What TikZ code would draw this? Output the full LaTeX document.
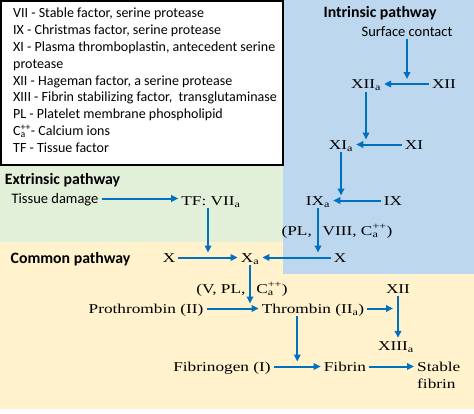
\documentclass[tikz,border=0pt]{standalone}
\usepackage{fontspec}
\setmainfont{Carlito}
\newfontfamily\srf[FakeStretch=1.28]{Liberation Serif}
\usetikzlibrary{arrows.meta,calc}
\definecolor{arrowblue}{RGB}{0,112,192}
\definecolor{intrblue}{RGB}{189,215,238}
\definecolor{extrgreen}{RGB}{226,239,217}
\definecolor{commyellow}{RGB}{255,242,204}
\newcommand{\caion}{C\rlap{\textsubscript{a}}\textsuperscript{++}}
\newcommand{\act}[1]{#1\textsubscript{a}}

\begin{document}
\begin{tikzpicture}[x=1pt, y=-1pt,
        factor/.style={font=\srf\fontsize{13.5}{17}\selectfont, inner sep=3pt, anchor=base},
        rowfac/.style={factor, text height=9pt, text depth=0pt},
        title/.style={font=\bfseries\fontsize{15.8}{18}\selectfont, inner sep=0pt, anchor=base},
        plain/.style={font=\fontsize{14.5}{17}\selectfont, inner sep=3pt, anchor=base, text height=9pt, text depth=0pt},
        arr/.style={arrowblue, line width=2pt, -{Triangle[length=7pt,width=6.5pt]}}]
    \useasboundingbox (0,0) rectangle (474,413);
    % pathway backgrounds
    \fill[commyellow] (0,242) rectangle (474,409);
    \fill[extrgreen] (0,166) rectangle (283,242);
    \fill[intrblue] (283,0) rectangle (474,274);
    \draw[line width=1.5pt, fill=white] (0.8,0.8) rectangle (283,165);
    \node[anchor=north west, align=left, inner sep=0pt, font=\fontsize{14}{16.9}\selectfont] (legend) at (13,7.5)
        {VII - Stable factor, serine protease\\
         IX - Christmas factor, serine protease\\
         XI - Plasma thromboplastin, antecedent serine\\
         protease\\
         XII - Hageman factor, a serine protease\\
         XIII - Fibrin stabilizing factor,\ \ transglutaminase\\
         PL - Platelet membrane phospholipid\\
         \caion- Calcium ions\\
         TF - Tissue factor};

    % intrinsic
    \node[title] (intr) at (380,17) {Intrinsic pathway};
    \node[plain] (surf) at (407,36) {Surface contact};
    \node[rowfac] (xiia) at (366,88.5) {\act{XII}};
    \node[rowfac] (xii) at (444,88.5) {XII};
    \node[rowfac] (xia) at (341,149) {\act{XI}};
    \node[rowfac] (xi) at (414,149) {XI};
    \node[rowfac] (ixa) at (318,205) {\act{IX}};
    \node[rowfac] (ix) at (393,205) {IX};
    \node[factor] (cof1) at (337,235) {(PL,\hspace{0.8em}VIII, \caion)};
    \node[rowfac] (xint) at (340,262) {X};

    % extrinsic
    \node[title] (extr) at (62.5,184) {Extrinsic pathway};
    \node[plain] (tissue) at (55,203) {Tissue damage};
    \node[rowfac] (tf) at (211,205) {TF: \act{VII}};

    % common
    \node[title] (comm) at (70.5,263) {Common pathway};
    \node[rowfac] (xcom) at (169,262) {X};
    \node[rowfac] (xa) at (250,262) {\act{X}};
    \node[factor] (cof2) at (242,293) {(V, PL,\hspace{0.8em}\caion)};
    \node[rowfac] (pro) at (146,313) {Prothrombin (II)};
    \node[rowfac] (thr) at (313,313) {Thrombin (\act{II})};
    \node[rowfac] (xiic) at (398,293) {XII};
    \node[rowfac] (xiiia) at (396,350) {\act{XIII}};
    \node[rowfac] (fgen) at (222,371) {Fibrinogen (I)};
    \node[rowfac] (fib) at (345,371) {Fibrin};
    \node[factor, anchor=north west, align=left] (stab) at (414,359) {Stable\\fibrin};

    % joints on the arrows
    \path (xii.west) -- (xiia.east) coordinate[pos=0.5, yshift=5pt] (j12);
    \path (xi.west) -- (xia.east) coordinate[pos=0.5, yshift=5pt] (j11);
    \path (ix.west) -- (ixa.east) coordinate[pos=0.5, yshift=5pt] (j9);
    \path (xint.west) -- (xa.east) coordinate[pos=0.5, yshift=5pt] (j10);
    \path (xcom.east) -- (xa.west) coordinate[pos=0.5, yshift=5pt] (jx);
    \path (pro.east) -- (thr.west) coordinate[pos=0.5, yshift=5pt] (jp);
    \path (fgen.east) -- (fib.west) coordinate[pos=0.5, yshift=5pt] (jf);
    \path (xiic.south) -- (xiiia.north) coordinate[pos=0.5, xshift=-4pt] (jt);

    \draw[arr] (surf.south) -- (surf.south |- j12);
    \draw[arr] (xii.west) -- (xii.west -| xiia.east);
    \draw[arr] (xiia.south) -- (xiia.south |- j11);
    \draw[arr] (xi.west) -- (xi.west -| xia.east);
    \draw[arr] (xia.south) -- (xia.south |- j9);
    \draw[arr] (ix.west) -- (ix.west -| ixa.east);
    \draw[arr] (ixa.south) -- (ixa.south |- j10);
    \draw[arr] (xint.west) -- (xint.west -| xa.east);
    \draw[arr] (tissue.east) -- (tissue.east -| tf.west);
    \draw[arr] (jx |- tf.south) -- (jx);
    \draw[arr] (xcom.east) -- (xcom.east -| xa.west);
    \draw[arr] (xa.south) -- (xa.south |- jp);
    \draw[arr] (pro.east) -- (pro.east -| thr.west);
    \draw[arr] (thr.east) -- (thr.east -| jt);
    \draw[arr] (xiic.south) -- (xiic.south |- xiiia.north);
    \draw[arr] (jf |- thr.south) -- (jf);
    \draw[arr] (fgen.east) -- (fgen.east -| fib.west);
    \draw[arr] (fib.east) -- (fib.east -| stab.west);
\end{tikzpicture}
\end{document}
